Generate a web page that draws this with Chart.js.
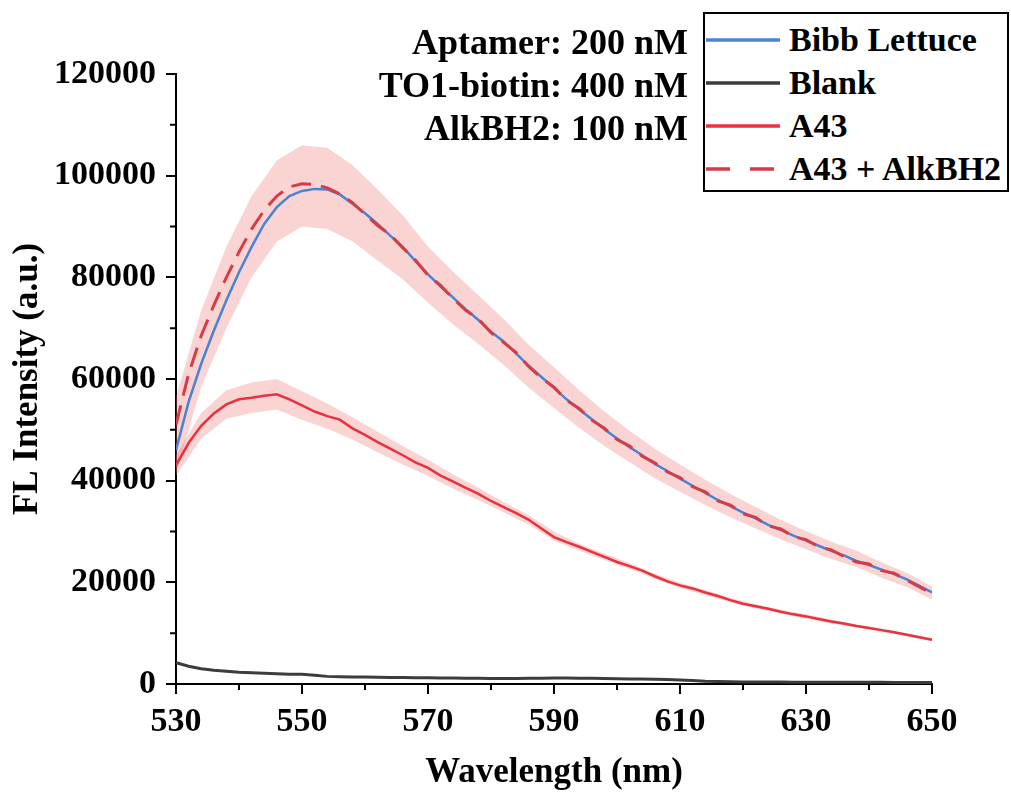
<!DOCTYPE html>
<html>
<head>
<meta charset="utf-8">
<script src="https://cdn.jsdelivr.net/npm/chart.js@4.4.1/dist/chart.umd.min.js"></script>
<style>
  html, body { margin: 0; padding: 0; background: #fff; }
  #wrap { position: relative; width: 1011px; height: 796px; font-family: 'Liberation Serif', 'Times New Roman', serif; font-weight: bold; color: #000; }
  #graph { position: absolute; left: 0; top: 0; }
  .note { position: absolute; right: 323px; font-size: 36px; line-height: 43px; text-align: right; white-space: nowrap; }
  #legend { position: absolute; left: 703px; top: 12px; width: 302px; height: 176px; border: 2px solid #000; background: #fff; }
  .row { position: absolute; left: 1px; height: 43px; display: flex; align-items: center; font-size: 34px; white-space: nowrap; }
  .row svg { margin-right: 9px; }
</style>
</head>
<body>
<div id="wrap">
  <canvas id="graph" width="1011" height="796"></canvas>
  <div class="note" style="top:21px">Aptamer: 200 nM</div>
  <div class="note" style="top:64px">TO1-biotin: 400 nM</div>
  <div class="note" style="top:107px">AlkBH2: 100 nM</div>
  <div id="legend"></div>
</div>
<script>
// wavelengths (nm), 2 nm steps
var wavelengths = [530,532,534,536,538,540,542,544,546,548,550,552,554,556,558,560,562,564,566,568,
  570,572,574,576,578,580,582,584,586,588,590,592,594,596,598,600,602,604,606,608,
  610,612,614,616,618,620,622,624,626,628,630,632,634,636,638,640,642,644,646,648,650];

var bibb = [46000,55500,63000,69500,75500,81000,86000,90500,93800,96000,97000,97400,97300,96300,94500,92600,90500,88200,86000,83200,
  80600,78200,76000,73700,71600,69300,67400,65000,62600,60400,58200,56000,54000,52100,50100,48300,46600,45000,43300,41900,
  40400,39000,37600,36200,35000,33700,32600,31300,30300,29200,28200,27200,26200,25300,24200,23400,22500,21600,20600,19300,18000];

var blank = [4200,3500,3000,2700,2500,2300,2200,2100,2000,1900,1900,1700,1500,1450,1400,1400,1350,1300,1300,1250,
  1250,1200,1200,1150,1150,1100,1100,1100,1150,1150,1200,1200,1150,1150,1100,1050,1000,1000,950,900,
  800,700,550,500,450,400,400,380,380,360,350,350,340,340,330,320,320,310,300,300,300];

var a43 = [43000,47400,50800,53200,55000,56000,56300,56700,57000,56000,54800,53600,52700,52000,50300,49000,47600,46300,45000,43600,
  42500,41000,39800,38600,37400,36000,34800,33600,32300,30600,28900,27900,27000,26000,25000,24000,23200,22300,21200,20200,
  19400,18800,18000,17300,16500,15800,15300,14800,14200,13700,13300,12800,12300,11900,11400,11000,10600,10200,9700,9200,8700];

var a43Alk = [51000,61000,68500,74500,80000,85000,89500,93200,96000,97800,98400,98300,97600,96400,94700,92400,90200,88400,85800,83400,
  80400,78400,75800,73500,71800,69100,67200,65200,62400,60200,58400,55800,54200,51900,50300,48100,46800,44800,43500,41700,
  40600,38800,37800,36000,35200,33500,32800,31100,30500,29000,28400,27000,26400,25100,24000,23600,22300,21800,20400,19100,17800];

// error bands, 4 nm steps
var bandWavelengths = [530,534,538,542,546,550,554,558,562,566,570,574,578,582,586,590,594,598,602,606,610,614,618,622,626,630,634,638,642,646,650];
var bibbUpper = [56500,73500,86000,96000,103000,106000,105500,102100,97300,92200,86000,81100,76500,71800,66700,62300,57800,53600,49800,46300,
  43200,40200,37400,34800,32300,30100,28000,26200,23900,21900,19200];
var bibbLower = [41500,58500,70000,80000,87000,90000,89500,87100,83300,79600,75000,70700,66900,62800,58300,54300,50400,46800,43600,40500,
  37800,35200,32800,30600,28500,26500,24600,23000,20900,19100,16600];
var a43Upper = [45000,53300,57800,59300,60000,57600,55200,52500,49600,46800,44100,41200,38600,35800,33200,30000,27600,25600,23800,21700,
  19900,18500,16900,15700,14600,13700,12700,11700,10900,10000,9000];
var a43Lower = [41000,48300,52200,53300,54000,52000,50200,48100,45600,43200,40900,38400,36200,33800,31400,28200,26200,24400,22600,20700,
  18900,17500,16100,14900,13800,12900,11900,11100,10300,9400,8400];

var seriesNames = ['Bibb Lettuce', 'Blank', 'A43', 'A43 + AlkBH2'];
var seriesColors = ['#4a82d4', '#3c3c3c', '#e8323e', '#d63c46'];
var bandColor = 'rgba(238,110,110,0.30)';

function pts(xs, ys) { return xs.map(function (x, i) { return {x: x, y: ys[i]}; }); }

var FONT = "'Liberation Serif', 'Times New Roman', serif";
var isMajorX = function (v) { return (v - 530) % 20 === 0; };
var isMajorY = function (v) { return v % 20000 === 0; };

// shorter minor ticks drawn on the library scales
var minorTicks = {
  id: 'minorTicks',
  afterDraw: function (chart) {
    var ctx = chart.ctx, x = chart.scales.x, y = chart.scales.y;
    ctx.save();
    ctx.strokeStyle = '#000';
    ctx.lineWidth = 2;
    ctx.beginPath();
    x.ticks.forEach(function (t) {
      if (!isMajorX(t.value)) { var px = x.getPixelForValue(t.value); ctx.moveTo(px, x.top); ctx.lineTo(px, x.top + 6); }
    });
    y.ticks.forEach(function (t) {
      if (!isMajorY(t.value)) { var py = y.getPixelForValue(t.value); ctx.moveTo(y.right, py); ctx.lineTo(y.right - 6, py); }
    });
    ctx.stroke();
    ctx.restore();
  }
};

var line = function (label, data, color, width, order, dash) {
  return { label: label, data: data, borderColor: color, borderWidth: width, pointRadius: 0,
           fill: false, tension: 0, order: order, borderDash: dash || [] };
};

new Chart(document.getElementById('graph'), {
  type: 'line',
  data: {
    datasets: [
      { data: pts(bandWavelengths, bibbUpper), borderWidth: 0, borderColor: 'rgba(0,0,0,0)', pointRadius: 0, fill: false, order: 10 },
      { data: pts(bandWavelengths, bibbLower), borderWidth: 0, borderColor: 'rgba(0,0,0,0)', pointRadius: 0, fill: {target: 0}, backgroundColor: bandColor, order: 10 },
      { data: pts(bandWavelengths, a43Upper), borderWidth: 0, borderColor: 'rgba(0,0,0,0)', pointRadius: 0, fill: false, order: 10 },
      { data: pts(bandWavelengths, a43Lower), borderWidth: 0, borderColor: 'rgba(0,0,0,0)', pointRadius: 0, fill: {target: 2}, backgroundColor: bandColor, order: 10 },
      line(seriesNames[1], pts(wavelengths, blank), seriesColors[1], 3, 4),
      line(seriesNames[2], pts(wavelengths, a43), seriesColors[2], 2.5, 3),
      line(seriesNames[0], pts(wavelengths, bibb), seriesColors[0], 2.5, 2),
      line(seriesNames[3], pts(wavelengths, a43Alk), seriesColors[3], 3, 1, [20, 10])
    ]
  },
  options: {
    responsive: false,
    animation: false,
    devicePixelRatio: 1,
    layout: { padding: { left: 0, top: 74, right: 79, bottom: 0 } },
    plugins: { legend: { display: false }, tooltip: { enabled: false } },
    scales: {
      x: {
        type: 'linear', min: 530, max: 650,
        afterFit: function (s) { s.height = 112; },
        border: { display: true, color: '#000', width: 2 },
        grid: { drawOnChartArea: false, drawTicks: true, tickLength: 10, lineWidth: 2,
                color: function (c) { return c.tick && isMajorX(c.tick.value) ? '#000' : 'rgba(0,0,0,0)'; } },
        ticks: { stepSize: 10, autoSkip: false, maxRotation: 0, padding: 8, color: '#000',
                 font: { family: FONT, size: 34, weight: 'bold' },
                 callback: function (v) { return isMajorX(v) ? v : ''; } },
        title: { display: true, text: 'Wavelength (nm)', color: '#000', padding: 2,
                 font: { family: FONT, size: 35, weight: 'bold' } }
      },
      y: {
        min: 0, max: 120000,
        afterFit: function (s) { s.width = 176; },
        border: { display: true, color: '#000', width: 2 },
        grid: { drawOnChartArea: false, drawTicks: true, tickLength: 10, lineWidth: 2,
                color: function (c) { return c.tick && isMajorY(c.tick.value) ? '#000' : 'rgba(0,0,0,0)'; } },
        ticks: { stepSize: 10000, maxTicksLimit: 20, autoSkip: false, padding: 10, color: '#000',
                 font: { family: FONT, size: 34, weight: 'bold' },
                 callback: function (v) { return isMajorY(v) ? v : ''; } },
        title: { display: true, text: 'FL Intensity (a.u.)', color: '#000', padding: 7,
                 font: { family: FONT, size: 35, weight: 'bold' } }
      }
    }
  },
  plugins: [minorTicks]
});

// legend box
var legend = document.getElementById('legend');
seriesNames.forEach(function (name, i) {
  var row = document.createElement('div');
  row.className = 'row';
  row.style.top = (4 + i * 43) + 'px';
  var dash = i === 3 ? ' stroke-dasharray="24 20"' : '';
  row.innerHTML = '<svg width="74" height="6"><line x1="0" y1="3" x2="74" y2="3" stroke="' + seriesColors[i] +
    '" stroke-width="3.5"' + dash + '/></svg><span>' + name + '</span>';
  legend.appendChild(row);
});
</script>
</body>
</html>
